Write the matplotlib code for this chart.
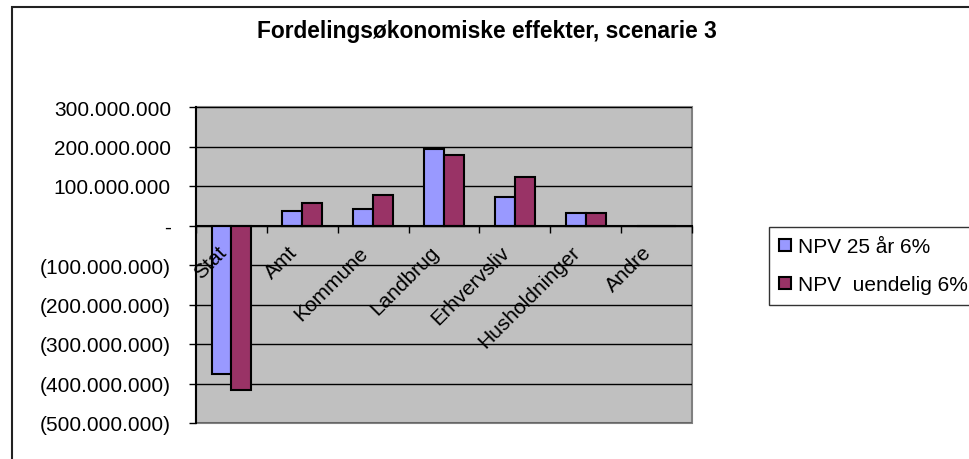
import matplotlib

matplotlib.use("Agg")
import matplotlib.pyplot as plt
from matplotlib.patches import Rectangle
from matplotlib.ticker import FixedLocator, FuncFormatter
import numpy as np

plt.rcParams["font.family"] = ["Liberation Sans", "DejaVu Sans"]

categories = ["Stat", "Amt", "Kommune", "Landbrug", "Erhvervsliv", "Husholdninger", "Andre"]
npv_25 = [-376e6, 36e6, 41e6, 193e6, 72e6, 32e6, 0]
npv_inf = [-417e6, 57e6, 77e6, 179e6, 122e6, 32e6, 0]
series_labels = ["NPV 25 år 6%", "NPV  uendelig 6%"]
y_ticks = [-500e6, -400e6, -300e6, -200e6, -100e6, 0, 100e6, 200e6, 300e6]
title = "Fordelingsøkonomiske effekter, scenarie 3"


def fmt_dk(v, pos=None):
    if abs(v) < 1:
        return "-"
    s = f"{abs(v):,.0f}".replace(",", ".")
    return f"({s})" if v < 0 else s


W, H = 970, 460
fig = plt.figure(figsize=(W / 100, H / 100), dpi=100)
fig.patch.set_facecolor("white")

ax = fig.add_axes([196 / W, (H - 424) / H, (692 - 196) / W, (424 - 108) / H])
ax.set_facecolor("#C0C0C0")

x = np.arange(len(categories))
bw = 0.28
b1 = ax.bar(x - bw / 2, npv_25, bw, color="#9999FF", edgecolor="black", linewidth=1.5, zorder=3,
            label=series_labels[0])
b2 = ax.bar(x + bw / 2, npv_inf, bw, color="#993366", edgecolor="black", linewidth=1.5, zorder=3,
            label=series_labels[1])

ax.set_xlim(-0.5, len(categories) - 0.5)
ax.set_ylim(y_ticks[0], y_ticks[-1])
ax.yaxis.set_major_locator(FixedLocator(y_ticks))
ax.yaxis.set_major_formatter(FuncFormatter(fmt_dk))
ax.grid(axis="y", color="black", linewidth=1, zorder=1)
ax.tick_params(axis="y", direction="out", length=5, width=1, pad=13, labelsize=15, colors="black")

# category axis sits on zero, ticks at category boundaries
ax.spines["bottom"].set_position(("data", 0))
ax.spines["bottom"].set_linewidth(1.5)
ax.spines["bottom"].set_zorder(4)
ax.set_xticks(np.arange(len(categories) + 1) - 0.5)
ax.set_xticklabels([])
ax.tick_params(axis="x", direction="out", length=5, width=1)
ax.spines["left"].set_linewidth(1.5)
ax.spines["top"].set_visible(False)
ax.spines["right"].set_visible(False)
ax.add_patch(Rectangle((0, 0), 1, 1, transform=ax.transAxes, fill=False,
                       edgecolor="#808080", linewidth=1.5, zorder=0.5, clip_on=False))

for i, name in enumerate(categories):
    ax.annotate(name, xy=(i, 0), xytext=(-6, -17), textcoords="offset points",
                rotation=45, rotation_mode="anchor", ha="right", va="center",
                fontsize=15, zorder=5)

fig.text(487 / W, (H - 38) / H, title, ha="center", va="baseline",
         fontsize=16.4, fontweight="bold")

leg = fig.legend(handles=[b1, b2], loc="upper left", bbox_to_anchor=(769 / W, (H - 228) / H),
                 fontsize=15, frameon=True, fancybox=False, edgecolor="black",
                 handlelength=0.55, handleheight=0.55, handletextpad=0.35,
                 labelspacing=0.9, borderpad=0.5, borderaxespad=0)
leg.get_frame().set_linewidth(1)

fig.add_artist(Rectangle((12 / W, -0.1), 1.2, (H - 8) / H + 0.1, transform=fig.transFigure,
                         fill=False, edgecolor="#222222", linewidth=1.5))

fig.savefig("out.png", dpi=100, facecolor="white")
